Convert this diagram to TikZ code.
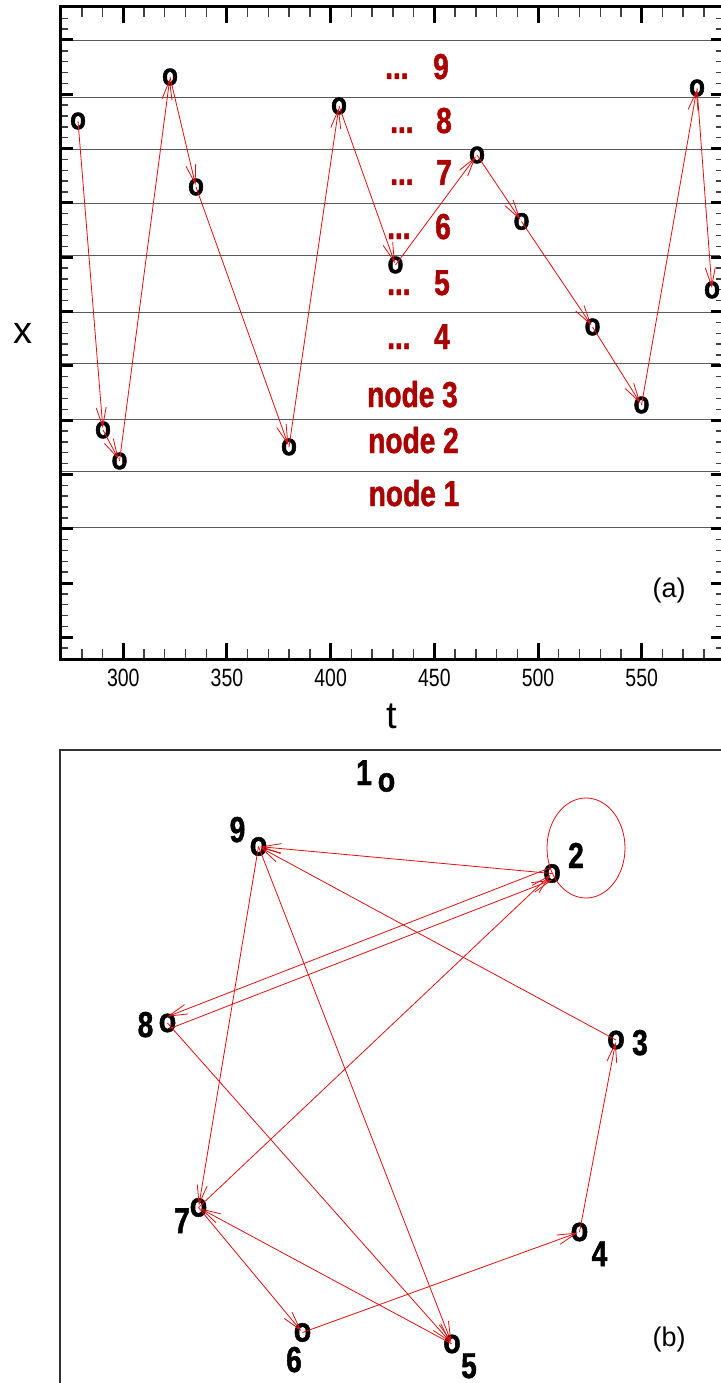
\documentclass[tikz,border=0pt]{standalone}
\usepackage{fontspec}
\setmainfont{Liberation Sans}
\newfontfamily\cond[FakeStretch=0.78]{Liberation Sans}
\newfontfamily\condb[FakeStretch=0.78,FakeBold=1.3]{Liberation Sans}
\newfontfamily\markf[FakeStretch=0.84,FakeBold=1.5]{Liberation Sans}
\usetikzlibrary{arrows.meta,calc}
\definecolor{lred}{RGB}{170,0,0}
\definecolor{ared}{RGB}{225,15,15}
\begin{document}
\begin{tikzpicture}[x=1pt,y=-1pt,
  mkA/.style={font=\markf\bfseries\fontsize{31}{34}\selectfont,inner sep=0pt,outer sep=0pt,anchor=center},
  mkB/.style={font=\markf\bfseries\fontsize{34}{37}\selectfont,inner sep=0pt,outer sep=0pt,anchor=center},
  arr/.style={draw=ared,line width=0.8pt,-{Straight Barb[length=19pt,width=10pt]},shorten >=2pt},
  redlbl/.style={text=lred,font=\condb\bfseries\fontsize{36}{40}\selectfont,anchor=base,inner sep=0pt},
  numlbl/.style={font=\condb\bfseries\fontsize{36}{40}\selectfont,anchor=base,inner sep=0pt},
  ticklbl/.style={font=\cond\fontsize{25}{28}\selectfont,anchor=base,inner sep=0pt},
  axlbl/.style={font=\fontsize{38}{42}\selectfont,anchor=base,inner sep=0pt},
  panlbl/.style={font=\fontsize{27}{30}\selectfont,anchor=base,inner sep=0pt},
  gridline/.style={draw=black!65,line width=0.9pt},
  majtick/.style={line width=3pt},
  mintick/.style={draw=black!75,line width=1.4pt}
]
\useasboundingbox (0,0) rectangle (720,1383);

% ---------- panel (a) ----------
\foreach \yy in {40,97.7,149,203,255,312,363,419,471,527}
  \draw[gridline] (60,\yy) -- (720,\yy);

\foreach \t in {280,290,...,580}{
  \pgfmathsetmacro{\xx}{123.3+(\t-300)*2.0736}
  \pgfmathtruncatemacro{\mj}{mod(\t,50)==0 ? 1 : 0}
  \ifnum\mj=1
    \draw[majtick] (\xx,659) -- (\xx,643);
    \draw[majtick] (\xx,7) -- (\xx,23);
  \else
    \draw[mintick] (\xx,659) -- (\xx,649);
    \draw[mintick] (\xx,7) -- (\xx,17);
  \fi
}
\foreach \j in {-2,...,56}{
  \pgfmathsetmacro{\yy}{40+10.86*\j}
  \pgfmathtruncatemacro{\mj}{mod(\j+10,5)==0 ? 1 : 0}
  \ifnum\mj=1
    \draw[majtick] (60,\yy) -- (73,\yy);
    \draw[majtick] (724,\yy) -- (711,\yy);
  \else
    \draw[mintick] (60,\yy) -- (68,\yy);
    \draw[mintick] (724,\yy) -- (716,\yy);
  \fi
}
\draw[line width=3pt] (60,7) rectangle (724,659);

\foreach \t in {300,350,...,550}
  \node[ticklbl] (tl\t) at ({123.3+(\t-300)*2.0736},686) {\t};
\node[axlbl] (xlab) at (23,343) {x};
\node[axlbl] (tlab) at (392,728) {t};
\node[panlbl] (pa) at (669,597) {(a)};

\foreach \d/\dx/\nx/\by in {9/385/449/79, 8/390/452/133, 7/390/452/185, 6/387/451/239, 5/387/450/295, 4/387/450/349}{
  \node[redlbl,anchor=base west] (rd\d) at (\dx,\by) {...};
  \node[redlbl,anchor=base east] (rn\d) at (\nx,\by) {\d};
}
\node[redlbl] (r3) at (412.5,407) {node 3};
\node[redlbl] (r2) at (413.5,453) {node 2};
\node[redlbl] (r1) at (414,506) {node 1};

\node[mkA] (p1) at (78,121) {o};
\node[mkA] (p2) at (103,430) {o};
\node[mkA] (p3) at (119.5,461) {o};
\node[mkA] (p4) at (170,77) {o};
\node[mkA] (p5) at (196,187) {o};
\node[mkA] (p6) at (289,447) {o};
\node[mkA] (p7) at (339,106) {o};
\node[mkA] (p8) at (395.5,265) {o};
\node[mkA] (p9) at (477,155) {o};
\node[mkA] (p10) at (521.5,221.5) {o};
\node[mkA] (p11) at (592.5,327) {o};
\node[mkA] (p12) at (641.5,405) {o};
\node[mkA] (p13) at (697,88) {o};
\node[mkA] (p14) at (712,290) {o};

\foreach \a/\b in {1/2,2/3,3/4,4/5,5/6,6/7,7/8,8/9,9/10,10/11,11/12,12/13,13/14}
  \draw[arr] (p\a.center) -- (p\b.center);

% ---------- panel (b) ----------
\draw[draw=black!80,line width=1.5pt] (60,1390) -- (60,750) -- (725,750);
\node[panlbl] (pb) at (669,1346) {(b)};

\node[mkB] (b1) at (386.5,782.5) {o};
\node[mkB] (b2) at (552,873.5) {o};
\node[mkB] (b3) at (616,1040) {o};
\node[mkB] (b4) at (579.5,1232) {o};
\node[mkB] (b5) at (452,1344) {o};
\node[mkB] (b6) at (302.5,1332.5) {o};
\node[mkB] (b7) at (198.5,1207.5) {o};
\node[mkB] (b8) at (167.5,1023) {o};
\node[mkB] (b9) at (258.5,846.5) {o};

\node[numlbl] (l1) at (364,785) {1};
\node[numlbl] (l2) at (576,868) {2};
\node[numlbl] (l3) at (640,1055) {3};
\node[numlbl] (l4) at (599.5,1266) {4};
\node[numlbl] (l5) at (469,1378) {5};
\node[numlbl] (l6) at (294,1372) {6};
\node[numlbl] (l7) at (182,1233) {7};
\node[numlbl] (l8) at (145.5,1037) {8};
\node[numlbl] (l9) at (237.5,842) {9};

\draw[draw=ared,line width=0.8pt] ($(b2.center)+(34,-25.5)$) ellipse [x radius=39,y radius=50];

\foreach \a/\b in {2/9,9/7,7/2,5/7,7/6,6/4,4/3,3/9,9/5,8/5}
  \draw[arr] (b\a.center) -- (b\b.center);
\draw[arr] ($(b2.center)!6pt!-90:(b8.center)$) -- ($(b8.center)!6pt!90:(b2.center)$);
\draw[arr] ($(b8.center)!6pt!-90:(b2.center)$) -- ($(b2.center)!6pt!90:(b8.center)$);
\end{tikzpicture}
\end{document}
